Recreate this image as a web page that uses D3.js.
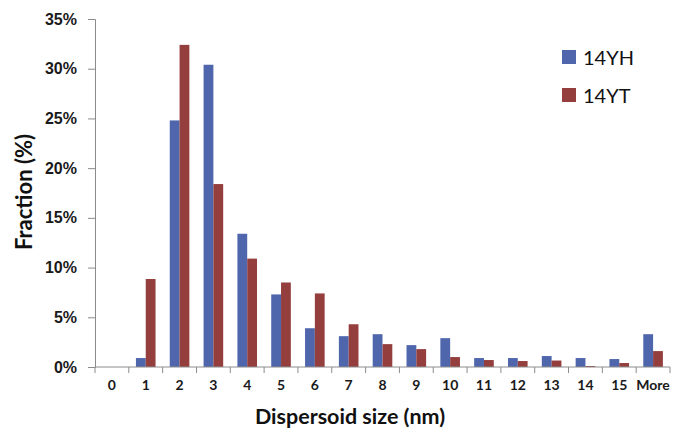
<!DOCTYPE html>
<html>
<head>
<meta charset="utf-8">
<script src="https://cdn.jsdelivr.net/npm/d3@7"></script>
<style>
  html, body { margin: 0; padding: 0; background: #fff; }
  svg { display: block; font-family: Lato, "Open Sans", sans-serif; }
</style>
</head>
<body>
<svg id="chart" width="680" height="429"></svg>
<script>
// Size bins (nm) and fraction of dispersoids in each bin (%)
const categories = ["0","1","2","3","4","5","6","7","8","9","10","11","12","13","14","15","More"];
const series14YH = [0, 0.9, 24.8, 30.4, 13.4, 7.3, 3.9, 3.1, 3.3, 2.2, 2.9, 0.9, 0.9, 1.1, 0.9, 0.8, 3.3];
const series14YT = [0, 8.85, 32.4, 18.4, 10.9, 8.5, 7.4, 4.3, 2.3, 1.8, 1.0, 0.7, 0.6, 0.65, 0.1, 0.4, 1.6];
const seriesNames = ["14YH", "14YT"];
const seriesColors = ["#4F66AD", "#943F3E"];
const yTicks = [0, 5, 10, 15, 20, 25, 30, 35];

const svg = d3.select("#chart");
const margin = { left: 95, right: 10, top: 19, bottom: 62 };
const plotW = 670 - margin.left;
const plotH = 367 - margin.top;

const g = svg.append("g").attr("transform", `translate(${margin.left},${margin.top})`);

const x = d3.scaleBand().domain(categories).range([0, plotW]).paddingInner(0).paddingOuter(0);
const sub = d3.scaleBand().domain(seriesNames).range([0, x.bandwidth()]).paddingInner(0).paddingOuter(0.725);
const y = d3.scaleLinear().domain([0, 35]).range([plotH, 0]);

// bars
const rows = categories.map((c, i) => ({ cat: c, vals: [series14YH[i], series14YT[i]] }));
const groups = g.selectAll("g.cat").data(rows).join("g")
  .attr("class", "cat")
  .attr("transform", d => `translate(${x(d.cat)},0)`);
groups.selectAll("rect").data(d => d.vals.map((v, k) => ({ v, k })).filter(e => e.v > 0)).join("rect")
  .attr("x", e => sub(seriesNames[e.k]))
  .attr("width", sub.bandwidth())
  .attr("y", e => y(e.v))
  .attr("height", e => plotH - y(e.v))
  .attr("fill", e => seriesColors[e.k]);

// y axis
const yAxis = d3.axisLeft(y).tickValues(yTicks).tickFormat(d => d + "%").tickSize(7).tickPadding(11);
const ya = g.append("g").call(yAxis);
ya.select(".domain").attr("stroke", "#8c8c8c");
ya.selectAll(".tick line").attr("stroke", "#8c8c8c");
ya.selectAll(".tick text").attr("fill", "#1a1a1a").style("font-size", "16px").style("font-weight", "bold");

// x axis: ticks at category boundaries, labels centred in each bin
const xa = g.append("g").attr("transform", `translate(0,${plotH})`);
xa.append("line").attr("x1", 0).attr("x2", plotW).attr("stroke", "#8c8c8c");
const bounds = d3.range(categories.length + 1).map(i => i * x.step());
xa.selectAll("line.tk").data(bounds).join("line")
  .attr("class", "tk")
  .attr("x1", d => d).attr("x2", d => d)
  .attr("y1", 0).attr("y2", 6)
  .attr("stroke", "#8c8c8c");
xa.selectAll("text").data(categories).join("text")
  .attr("x", d => x(d) + x.bandwidth() / 2)
  .attr("y", 22.5)
  .attr("text-anchor", "middle")
  .attr("fill", "#1a1a1a")
  .style("font-size", "14px").style("font-weight", "bold")
  .text(d => d);

// axis titles
svg.append("text")
  .attr("x", 350).attr("y", 424)
  .attr("text-anchor", "middle")
  .attr("fill", "#111")
  .style("font-size", "21.5px").style("font-weight", "bold")
  .text("Dispersoid size (nm)");
svg.append("text")
  .attr("transform", "translate(32,192) rotate(-90)")
  .attr("text-anchor", "middle")
  .attr("fill", "#111")
  .style("font-size", "22px").style("font-weight", "bold")
  .text("Fraction (%)");

// legend
const legend = svg.append("g").attr("transform", "translate(562,50)");
seriesNames.forEach((name, i) => {
  const row = legend.append("g").attr("transform", `translate(0,${i * 38})`);
  row.append("rect").attr("width", 14).attr("height", 14).attr("fill", seriesColors[i]);
  row.append("text").attr("x", 21).attr("y", 15)
    .attr("fill", "#111")
    .style("font-size", "20px")
    .text(name);
});
</script>
</body>
</html>
